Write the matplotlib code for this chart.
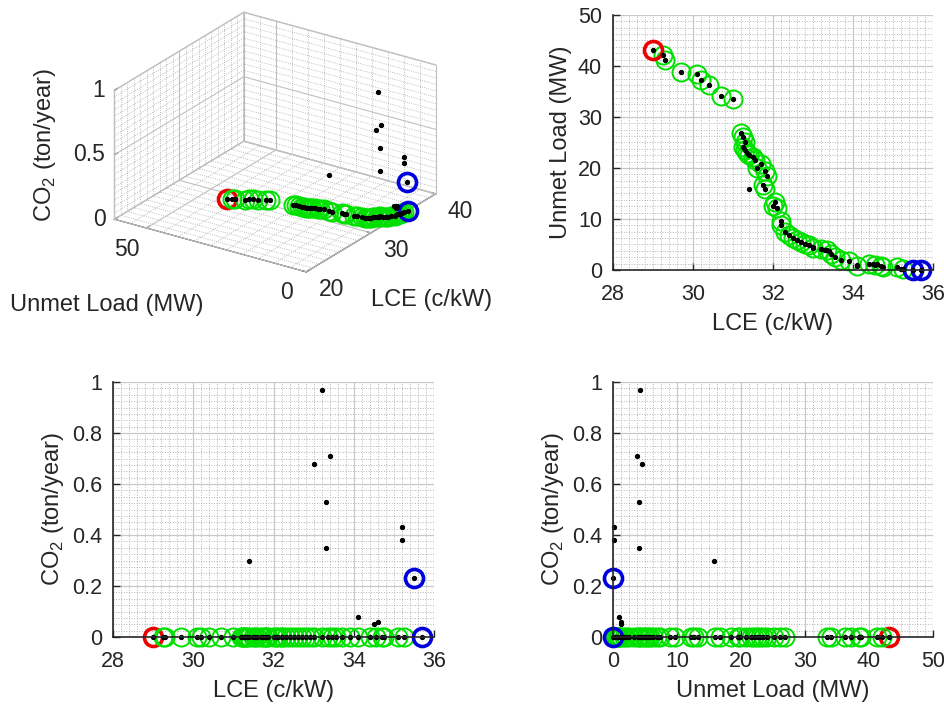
import numpy as np
import matplotlib
matplotlib.use("Agg")
import matplotlib.pyplot as plt
from mpl_toolkits.mplot3d import Axes3D, proj3d  # noqa: F401

plt.rcParams['font.family'] = ['Liberation Sans', 'DejaVu Sans']
plt.rcParams['text.color'] = '#262626'
plt.rcParams['axes.labelcolor'] = '#262626'
plt.rcParams['xtick.color'] = '#262626'
plt.rcParams['ytick.color'] = '#262626'

# pareto solutions (no CO2)
pareto_lce = [29.25, 29.3, 29.7, 30.1, 30.2, 30.4, 30.7, 31.0, 31.2, 31.25, 31.3, 31.25,
              31.3, 31.35, 31.4, 31.5, 31.55, 31.6, 31.7, 31.8, 31.85, 31.75, 31.8, 32.0,
              32.05, 32.1, 32.2, 32.2, 32.3, 32.4, 32.5, 32.6, 32.7, 32.8, 32.9, 33.0,
              33.2, 33.35, 33.45, 33.55, 33.7, 33.9, 34.1, 34.4, 34.55, 34.7, 34.75,
              35.1, 35.25]
pareto_unmet = [42.1, 41.2, 38.8, 38.5, 37.2, 36.2, 34.1, 33.5, 26.9, 26.1, 25.1, 24.1,
                23.5, 22.9, 22.5, 22.1, 21.5, 19.9, 20.8, 19.5, 18.5, 16.7, 15.9, 12.6,
                13.3, 12.2, 9.7, 8.9, 7.4, 6.8, 6.2, 5.8, 5.5, 5.1, 4.8, 4.3,
                4.1, 3.9, 3.2, 2.5, 2.0, 1.7, 0.85, 1.2, 1.0, 0.85, 0.5,
                0.5, 0.2]

# other solutions (with CO2)
other_lce = [31.4, 33.2, 33.0, 33.4, 33.3, 33.3, 35.2, 35.2, 34.1, 34.5, 34.6]
other_unmet = [15.8, 4.2, 4.5, 3.8, 4.0, 4.0, 0.1, 0.2, 1.0, 1.2, 1.2]
other_co2 = [0.30, 0.97, 0.68, 0.71, 0.53, 0.35, 0.43, 0.38, 0.08, 0.05, 0.06]

# extreme solutions
red_lce, red_unmet, red_co2 = [29.0], [43.1], [0.0]
blue_lce, blue_unmet, blue_co2 = [35.5, 35.7], [0.0, 0.0], [0.23, 0.0]

pareto_co2 = [0.0] * len(pareto_lce)
all_lce = pareto_lce + other_lce + red_lce + blue_lce
all_unmet = pareto_unmet + other_unmet + red_unmet + blue_unmet
all_co2 = pareto_co2 + other_co2 + red_co2 + blue_co2

# 3D axis ticks
lce_ticks_3d = [20, 30, 40]
unmet_ticks_3d = [0, 50]
co2_ticks_3d = [0, 0.5, 1]

GREEN = '#00e000'
RED = '#ee0000'
BLUE = '#0000dd'
ring = dict(linestyle='none', marker='o', markerfacecolor='none', markersize=13)
dot = dict(linestyle='none', marker='o', color='k', markersize=2.8)
co2_label = 'CO$_\\mathregular{2}$ (ton/year)'
TICK_FS = 15.5
LABEL_FS = 17


def style_2d(ax, xlim, ylim, xmaj, xmin, ymaj, ymin):
    ax.set_xlim(*xlim)
    ax.set_ylim(*ylim)
    ax.set_xticks(np.arange(xlim[0], xlim[1] + 1e-9, xmaj))
    ax.set_yticks(np.arange(ylim[0], ylim[1] + 1e-9, ymaj))
    ax.set_xticks(np.arange(xlim[0], xlim[1] + 1e-9, xmin), minor=True)
    ax.set_yticks(np.arange(ylim[0], ylim[1] + 1e-9, ymin), minor=True)
    ax.grid(which='major', color='#c8c8c8', linewidth=0.9)
    ax.grid(which='minor', color='#b4b4b4', linestyle=':', linewidth=0.7)
    ax.set_axisbelow(True)
    for s in ['top', 'right']:
        ax.spines[s].set_visible(False)
    for s in ['left', 'bottom']:
        ax.spines[s].set_color('#262626')
        ax.spines[s].set_linewidth(1.2)
    ax.tick_params(which='major', direction='in', length=5, labelsize=TICK_FS,
                   width=1.0, pad=10)
    ax.tick_params(axis='y', which='major', pad=8)
    ax.tick_params(which='minor', length=0)
    ax.yaxis.set_major_formatter(plt.FuncFormatter(lambda v, p: f'{v:g}'))
    ax.xaxis.set_major_formatter(plt.FuncFormatter(lambda v, p: f'{v:g}'))


fig = plt.figure(figsize=(9.45, 7.06), dpi=100)

# ---- 3D view ----
ax3 = fig.add_axes([0.006, 0.542, 0.56, 0.5], projection='3d', computed_zorder=False)
ax3.set_proj_type('ortho')
ax3.set_box_aspect((1, 1, 0.61), zoom=0.98)
ax3.view_init(elev=24, azim=-146)
ax3.set_xlim(20, 40)
ax3.set_ylim(0, 60)
ax3.set_zlim(0, 1)
ax3.grid(False)
for axis in (ax3.xaxis, ax3.yaxis, ax3.zaxis):
    axis.set_pane_color((1, 1, 1, 1))
    axis.pane.set_edgecolor('#cccccc')
    axis.line.set_color('#262626')
    axis._axinfo['tick']['inward_factor'] = 0.0
    axis._axinfo['tick']['outward_factor'] = 0.3

gkw = dict(color='#aaaaaa', linewidth=0.6, linestyle=':')
mkw = dict(color='#c0c0c0', linewidth=0.8)
for v in np.arange(20, 40.01, 1):
    k = mkw if v % 10 == 0 else gkw
    ax3.plot([v, v], [60, 60], [0, 1], **k)
    ax3.plot([v, v], [0, 60], [0, 0], **k)
for v in np.arange(0, 60.01, 5):
    k = mkw if v in unmet_ticks_3d else gkw
    ax3.plot([40, 40], [v, v], [0, 1], **k)
    ax3.plot([20, 40], [v, v], [0, 0], **k)
for v in np.arange(0, 1.001, 0.05):
    k = mkw if abs(v * 2 - round(v * 2)) < 1e-6 else gkw
    ax3.plot([20, 40], [60, 60], [v, v], **k)
    ax3.plot([40, 40], [0, 60], [v, v], **k)

ax3.plot(red_lce, red_unmet, red_co2, color=RED, markeredgewidth=2.6, **ring)
ax3.plot(pareto_lce, pareto_unmet, pareto_co2, color=GREEN, markeredgewidth=1.4, **ring)
ax3.plot(blue_lce, blue_unmet, blue_co2, color=BLUE, markeredgewidth=2.6, **ring)
ax3.plot(all_lce, all_unmet, all_co2, **dot)

ax3.set_xticks(lce_ticks_3d)
ax3.set_yticks(unmet_ticks_3d)
ax3.set_zticks(co2_ticks_3d)
ax3.set_xticklabels([])
ax3.set_yticklabels([])
ax3.set_zticklabels([])
ax3.set_xlabel('')
ax3.set_ylabel('')
ax3.set_zlabel('')
fig.text(0.113, 0.568, 'Unmet Load (MW)', fontsize=LABEL_FS, ha='center', va='center')
fig.text(0.457, 0.575, 'LCE (c/kW)', fontsize=LABEL_FS, ha='center', va='center')
fig.text(0.048, 0.795, co2_label, fontsize=LABEL_FS, ha='center', va='center',
         rotation=90)

# ---- LCE vs Unmet ----
ax1 = fig.add_axes([0.6487, 0.6176, 0.3386, 0.3612])
style_2d(ax1, (28, 36), (0, 50), 2, 0.2, 10, 1.25)
ax1.plot(pareto_lce, pareto_unmet, color=GREEN, markeredgewidth=1.4, clip_on=False, **ring)
ax1.plot(red_lce, red_unmet, color=RED, markeredgewidth=2.6, clip_on=False, **ring)
ax1.plot(blue_lce, blue_unmet, color=BLUE, markeredgewidth=2.6, clip_on=False, **ring)
ax1.plot(all_lce, all_unmet, clip_on=False, **dot)
ax1.set_xlabel('LCE (c/kW)', fontsize=LABEL_FS, labelpad=6)
ax1.set_ylabel('Unmet Load (MW)', fontsize=LABEL_FS)

# ---- LCE vs CO2 ----
ax2 = fig.add_axes([0.1196, 0.0977, 0.3397, 0.3612])
style_2d(ax2, (28, 36), (0, 1), 2, 0.2, 0.2, 0.025)
ax2.plot(red_lce, red_co2, color=RED, markeredgewidth=2.6, clip_on=False, **ring)
ax2.plot(pareto_lce, pareto_co2, color=GREEN, markeredgewidth=1.4, clip_on=False, **ring)
ax2.plot(blue_lce, blue_co2, color=BLUE, markeredgewidth=2.6, clip_on=False, **ring)
ax2.plot(all_lce, all_co2, clip_on=False, **dot)
ax2.set_xlabel('LCE (c/kW)', fontsize=LABEL_FS, labelpad=6)
ax2.set_ylabel(co2_label, fontsize=LABEL_FS)

# ---- Unmet vs CO2 ----
ax4 = fig.add_axes([0.6487, 0.0977, 0.3386, 0.3612])
style_2d(ax4, (0, 50), (0, 1), 10, 1.25, 0.2, 0.025)
ax4.plot(red_unmet, red_co2, color=RED, markeredgewidth=2.6, clip_on=False, **ring)
ax4.plot(pareto_unmet, pareto_co2, color=GREEN, markeredgewidth=1.4, clip_on=False, **ring)
ax4.plot(blue_unmet, blue_co2, color=BLUE, markeredgewidth=2.6, clip_on=False, **ring)
ax4.plot(all_unmet, all_co2, clip_on=False, **dot)
ax4.set_xlabel('Unmet Load (MW)', fontsize=LABEL_FS, labelpad=6)
ax4.set_ylabel(co2_label, fontsize=LABEL_FS)

# 3D tick labels, MATLAB style (upright), placed next to projected tick positions
fig.canvas.draw()
W, H = fig.bbox.width, fig.bbox.height


def tick_label(x, y, z, text, dx, dy, ha):
    px, py, _ = proj3d.proj_transform(x, y, z, ax3.get_proj())
    sx, sy = ax3.transData.transform((px, py))
    fig.text((sx + dx) / W, (sy - dy) / H, text, fontsize=TICK_FS + 1, ha=ha, va='center')


for v in lce_ticks_3d:
    tick_label(v, 0, 0, f'{v:g}', 25, 18, 'center')
for v in unmet_ticks_3d:
    tick_label(20, v, 0, f'{v:g}', -20, 21, 'center')
for v in co2_ticks_3d:
    tick_label(20, 60, v, f'{v:g}', -9, 0, 'right')

fig.savefig('out.png', dpi=100)
